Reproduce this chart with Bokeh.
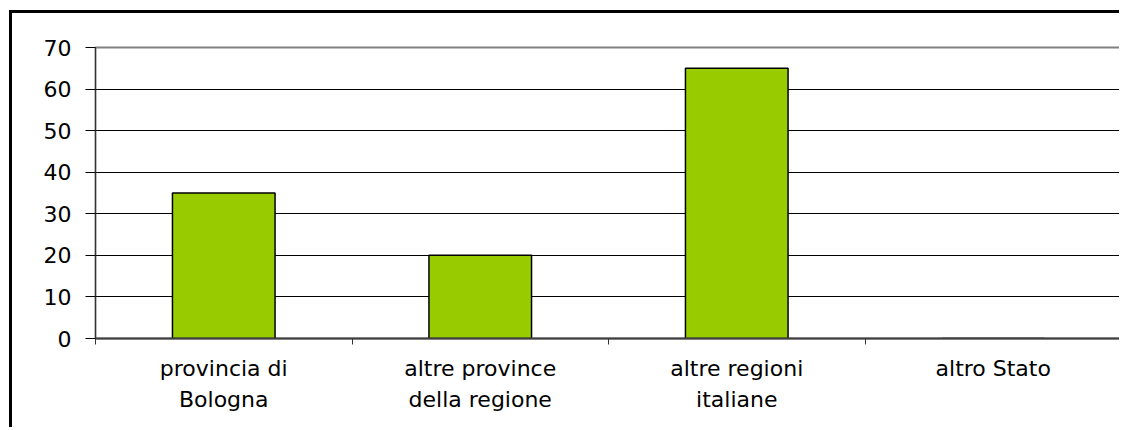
from bokeh.plotting import figure
from bokeh.models import FixedTicker, Range1d
from bokeh.embed import file_html
from bokeh.resources import INLINE

categories = ["provincia di\nBologna", "altre province\ndella regione", "altre regioni\nitaliane", "altro Stato"]
values = [35, 20, 65, 0]
y_ticks = [0, 10, 20, 30, 40, 50, 60, 70]

FONT = "DejaVu Sans"

n = len(categories)
centers = [i + 0.5 for i in range(n)]

p = figure(width=1110, height=417, output_backend="svg", toolbar_location=None,
           x_range=Range1d(0, n), y_range=Range1d(0, 70),
           min_border_left=83, min_border_top=34, min_border_right=1, min_border_bottom=92)
p.styles = {"border-left": "3px solid black", "border-top": "3px solid black",
            "margin-left": "9px", "margin-top": "10px"}
p.background_fill_color = "white"
p.border_fill_color = "white"
p.outline_line_color = "#808080"
p.outline_line_width = 2

p.vbar(x=centers, top=values, width=0.4, fill_color="#99CC00", line_color="black", line_width=1.5)

p.xgrid.visible = False
p.ygrid.ticker = FixedTicker(ticks=[t for t in y_ticks if 0 < t < 70])
p.ygrid.grid_line_color = "black"
p.ygrid.grid_line_width = 1

# y axis
p.yaxis.ticker = FixedTicker(ticks=y_ticks)
p.yaxis.major_tick_out = 10
p.yaxis.major_tick_in = 0
p.yaxis.minor_tick_out = 0
p.yaxis.minor_tick_in = 0
p.yaxis.major_tick_line_color = "black"
p.yaxis.axis_line_color = "#333333"
p.yaxis.axis_line_width = 1
p.yaxis.major_label_text_font = FONT
p.yaxis.major_label_text_font_size = "22px"
p.yaxis.major_label_text_color = "black"
p.yaxis.major_label_standoff = 14

# x axis
p.xaxis.ticker = FixedTicker(ticks=centers, minor_ticks=list(range(n + 1)))
p.xaxis.major_label_overrides = {c: lab for c, lab in zip(centers, categories)}
p.xaxis.major_tick_out = 0
p.xaxis.major_tick_in = 0
p.xaxis.minor_tick_out = 6
p.xaxis.minor_tick_in = 0
p.xaxis.minor_tick_line_color = "#333333"
p.xaxis.axis_line_color = "#404040"
p.xaxis.axis_line_width = 2
p.xaxis.major_label_text_font = FONT
p.xaxis.major_label_text_font_size = "22px"
p.xaxis.major_label_text_color = "black"
p.xaxis.major_label_text_line_height = 1.25
p.xaxis.major_label_standoff = 11

open("out.html", "w").write(file_html(p, INLINE))
